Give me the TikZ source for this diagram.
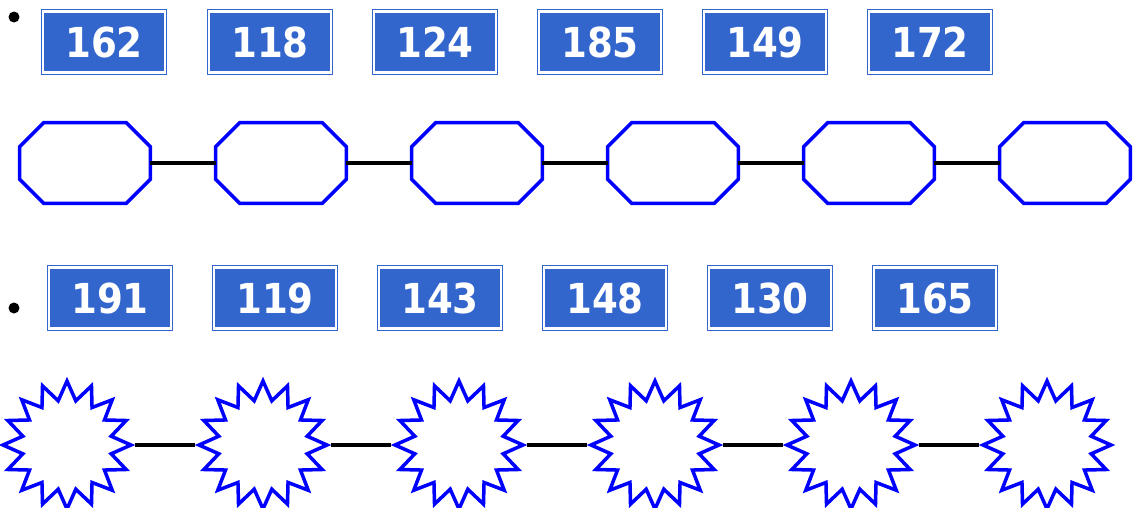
\documentclass[tikz,border=0pt]{standalone}
\usepackage{fontspec}
\usepackage{xcolor}
\usepackage{tikz}
\setsansfont{DejaVu Sans}
\newfontfamily\tagfont[FakeStretch=0.9]{DejaVu Sans}
\definecolor{tagblue}{RGB}{51, 102, 204}
\definecolor{rimblue}{RGB}{0, 0, 255}
\usetikzlibrary{shapes.geometric, positioning}

\begin{document}
\begin{tikzpicture}[
    x=0.02cm, y=-0.02cm,
    tag/.style={rectangle, draw=tagblue, double=white, double distance=1.2pt, line width=0.7pt, fill=tagblue, minimum width=2.44cm, minimum height=1.22cm, inner sep=0pt, text=white, font=\tagfont\bfseries\fontsize{23.5}{23.5}\selectfont},
    octa/.style={rectangle, minimum width=2.6cm, minimum height=1.6cm, inner sep=0pt,
        append after command={\pgfextra{
            \draw[draw=rimblue, line width=2pt, line join=miter, fill=white]
                ([xshift=0.48cm]\tikzlastnode.north west) -- ([xshift=-0.48cm]\tikzlastnode.north east)
                -- ([yshift=-0.48cm]\tikzlastnode.north east) -- ([yshift=0.48cm]\tikzlastnode.south east)
                -- ([xshift=-0.48cm]\tikzlastnode.south east) -- ([xshift=0.48cm]\tikzlastnode.south west)
                -- ([yshift=0.48cm]\tikzlastnode.south west) -- ([yshift=-0.48cm]\tikzlastnode.north west) -- cycle;}}},
    burst/.style={star, star points=16, star point ratio=1.42, draw=rimblue, line width=2pt, fill=white, minimum size=2.56cm, inner sep=0pt},
    dot/.style={circle, fill=black, minimum size=0.22cm, inner sep=0pt},
    link/.style={line width=2pt, black}
]
    \useasboundingbox (0, 0) rectangle (1139, 507);

    % First row of numbers
    \node[dot] (b1) at (14, 17) {};
    \node[tag] (t1) at (104, 42) {162};
    \node[tag] (t2) at (270, 42) {118};
    \node[tag] (t3) at (435, 42) {124};
    \node[tag] (t4) at (600, 42) {185};
    \node[tag] (t5) at (765, 42) {149};
    \node[tag] (t6) at (930, 42) {172};

    % Octagon chain
    \node[octa] (o1) at (85, 163) {};
    \node[octa] (o2) at (281, 163) {};
    \node[octa] (o3) at (477, 163) {};
    \node[octa] (o4) at (673, 163) {};
    \node[octa] (o5) at (869, 163) {};
    \node[octa] (o6) at (1065, 163) {};

    \draw[link] (o1) -- (o2);
    \draw[link] (o2) -- (o3);
    \draw[link] (o3) -- (o4);
    \draw[link] (o4) -- (o5);
    \draw[link] (o5) -- (o6);

    % Second row of numbers
    \node[dot] (b2) at (14, 308) {};
    \node[tag] (u1) at (110, 298) {191};
    \node[tag] (u2) at (275, 298) {119};
    \node[tag] (u3) at (440, 298) {143};
    \node[tag] (u4) at (605, 298) {148};
    \node[tag] (u5) at (770, 298) {130};
    \node[tag] (u6) at (935, 298) {165};

    % Star chain
    \node[burst] (s1) at (67, 445) {};
    \node[burst] (s2) at (263, 445) {};
    \node[burst] (s3) at (459, 445) {};
    \node[burst] (s4) at (655, 445) {};
    \node[burst] (s5) at (851, 445) {};
    \node[burst] (s6) at (1047, 445) {};

    \draw[link] (s1) -- (s2);
    \draw[link] (s2) -- (s3);
    \draw[link] (s3) -- (s4);
    \draw[link] (s4) -- (s5);
    \draw[link] (s5) -- (s6);
\end{tikzpicture}
\end{document}
